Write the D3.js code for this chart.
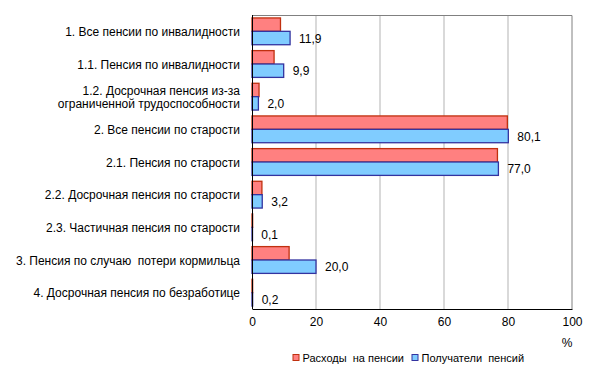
<!DOCTYPE html>
<html>
<head>
<meta charset="utf-8">
<title>Пенсии</title>
<style>
    body { margin: 0; padding: 0; background: #fff; font-family: Arial, "Liberation Sans", sans-serif; }
    svg text { white-space: pre; }
    .axis text { font-size: 12px; fill: #000; }
    .lbl { font-size: 12px; fill: #000; }
</style>
</head>
<body>
<div id="chart"></div>
<script src="https://d3js.org/d3.v7.min.js"></script>
<script>
const categories = [
    "1. Все пенсии по инвалидности",
    "1.1. Пенсия по инвалидности",
    "1.2. Досрочная пенсия из-за|ограниченной трудоспособности",
    "2. Все пенсии по старости",
    "2.1. Пенсия по старости",
    "2.2. Досрочная пенсия по старости",
    "2.3. Частичная пенсия по старости",
    "3. Пенсия по случаю  потери кормильца",
    "4. Досрочная пенсия по безработице"
];
const expenses = [8.9, 6.9, 2.2, 79.8, 76.7, 3.1, 0.2, 11.6, 0.2];
const recipients = [11.9, 9.9, 2.0, 80.1, 77.0, 3.2, 0.1, 20.0, 0.2];
const xTicks = [0, 20, 40, 60, 80, 100];
const seriesNames = ["Расходы  на пенсии", "Получатели  пенсий"];

const W = 594, H = 374;
const margin = { top: 15, right: 22, bottom: 65, left: 252 };
const width = W - margin.left - margin.right;
const height = H - margin.top - margin.bottom;

const svg = d3.select("#chart").append("svg")
    .attr("width", W).attr("height", H);
const g = svg.append("g")
    .attr("transform", `translate(${margin.left},${margin.top})`);

const x = d3.scaleLinear().domain([0, 100]).range([0, width]);
const y = d3.scaleBand().domain(d3.range(categories.length)).range([0, height]).paddingInner(0.18).paddingOuter(0.09);
const sub = d3.scaleBand().domain([0, 1]).range([0, y.bandwidth()]);

// grid lines
g.selectAll(".grid").data(xTicks.slice(1, -1)).enter().append("line")
    .attr("x1", d => x(d)).attr("x2", d => x(d))
    .attr("y1", 0).attr("y2", height)
    .attr("stroke", "#b3b3b3").attr("stroke-width", 1);

// frame (top and right)
g.append("path")
    .attr("d", `M0,0.5H${width}V${height}`)
    .attr("fill", "none").attr("stroke", "#808080");

const series = [
    { vals: expenses, fill: "#ff8080", stroke: "#c0300f" },
    { vals: recipients, fill: "#80ccff", stroke: "#3333a0" }
];

series.forEach((s, si) => {
    g.selectAll(".bar" + si).data(s.vals).enter().append("rect")
        .attr("x", 0)
        .attr("y", (d, i) => y(i) + sub(si))
        .attr("width", d => Math.max(x(d), 0.5))
        .attr("height", sub.bandwidth())
        .attr("fill", s.fill)
        .attr("stroke", s.stroke)
        .attr("stroke-width", 1.3);
});

// value labels for recipients
g.selectAll(".val").data(recipients).enter().append("text")
    .attr("class", "lbl")
    .attr("x", d => x(d) + 9)
    .attr("y", (d, i) => y(i) + sub(1) + sub.bandwidth() / 2)
    .attr("dy", "0.38em")
    .text(d => d.toFixed(1).replace(".", ","));

// category labels
const cat = g.selectAll(".cat").data(categories).enter().append("text")
    .attr("class", "lbl")
    .attr("text-anchor", "end")
    .attr("x", -12)
    .attr("y", (d, i) => y(i) + y.bandwidth() / 2);
cat.each(function (d) {
    const lines = d.split("|");
    const t = d3.select(this);
    lines.forEach((ln, k) => {
        t.append("tspan")
            .attr("x", -12)
            .attr("dy", k === 0 ? (0.38 - (lines.length - 1) * 0.55) + "em" : "1.1em")
            .text(ln);
    });
});

// axes
g.append("g").attr("class", "axis")
    .attr("transform", `translate(0,${height})`)
    .call(d3.axisBottom(x).tickValues(xTicks).tickSize(0).tickPadding(8))
    .call(a => a.select(".domain").attr("stroke", "#000"));
g.append("line").attr("x1", 0.5).attr("x2", 0.5).attr("y1", 0).attr("y2", height).attr("stroke", "#000");

svg.append("text").attr("class", "lbl")
    .attr("x", 567).attr("y", 347).attr("text-anchor", "middle").text("%");

// legend
const legX = [293, 412];
seriesNames.forEach((n, i) => {
    svg.append("rect").attr("x", legX[i]).attr("y", 354.5).attr("width", 6).attr("height", 6)
        .attr("fill", series[i].fill).attr("stroke", series[i].stroke);
    svg.append("text").attr("x", legX[i] + 9.5).attr("y", 361.5)
        .attr("font-size", "11px").text(n);
});
</script>
</body>
</html>
